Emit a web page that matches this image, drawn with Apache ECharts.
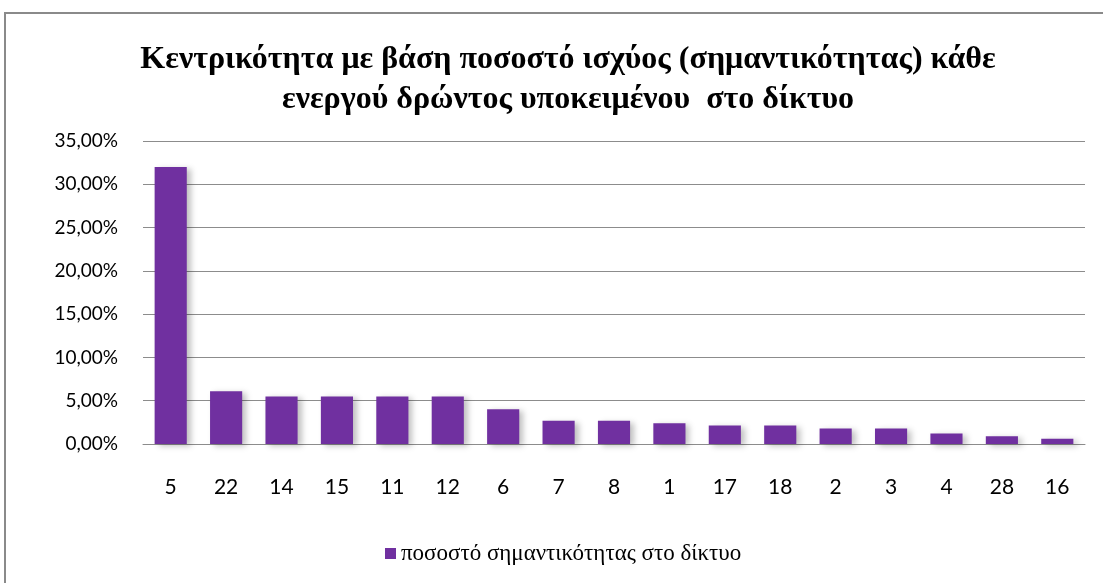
<!DOCTYPE html>
<html>
<head>
<meta charset="utf-8">
<script src="https://cdn.jsdelivr.net/npm/echarts@6/dist/echarts.min.js"></script>
<style>
  html, body { margin: 0; padding: 0; background: #fff; }
  #chart { width: 1103px; height: 583px; }
</style>
</head>
<body>
<div id="chart"></div>
<script>
// κόμβοι (ενεργοί δρώντες) και ποσοστό σημαντικότητας
var categories = ['5', '22', '14', '15', '11', '12', '6', '7', '8', '1', '17', '18', '2', '3', '4', '28', '16'];
var values = [32.0, 6.1, 5.5, 5.5, 5.5, 5.5, 4.0, 2.7, 2.7, 2.4, 2.15, 2.15, 1.8, 1.8, 1.2, 0.9, 0.6];
var seriesName = 'ποσοστό σημαντικότητας στο δίκτυο';
var titleText = 'Κεντρικότητα με βάση ποσοστό ισχύος (σημαντικότητας) κάθε\nενεργού δρώντος υποκειμένου  στο δίκτυο';

var chart = echarts.init(document.getElementById('chart'));

function pct(v) {
  return v.toFixed(2).replace('.', ',') + '%';
}

var option = {
  backgroundColor: '#ffffff',
  animation: false,
  title: {
    text: titleText,
    left: 563,
    top: 35,
    textAlign: 'center',
    textStyle: {
      fontFamily: 'Liberation Serif',
      fontWeight: 'bold',
      fontSize: 32,
      lineHeight: 40,
      color: '#000'
    }
  },
  legend: {
    data: [seriesName],
    left: 380,
    top: 537,
    itemWidth: 11,
    itemHeight: 11,
    itemGap: 5,
    icon: 'rect',
    textStyle: {
      fontFamily: 'Liberation Serif',
      fontSize: 23,
      color: '#000'
    }
  },
  grid: {
    left: 143,
    right: 18,
    top: 141,
    bottom: 139,
    containLabel: false
  },
  xAxis: {
    type: 'category',
    data: categories,
    axisLine: { lineStyle: { color: '#8c8c8c', width: 1 } },
    axisTick: { show: false },
    axisLabel: {
      margin: 33,
      fontFamily: 'Lato',
      fontSize: 21,
      color: '#000'
    }
  },
  yAxis: {
    type: 'value',
    min: 0,
    max: 35,
    interval: 5,
    axisLine: { show: false },
    axisTick: { show: false },
    splitLine: { lineStyle: { color: '#8c8c8c', width: 1 } },
    axisLabel: {
      margin: 25,
      fontFamily: 'Lato',
      fontSize: 19,
      color: '#000',
      formatter: pct
    }
  },
  graphic: [{
    type: 'rect',
    shape: { x: 5, y: 13, width: 1110, height: 600 },
    style: { fill: 'none', stroke: '#8a8a8a', lineWidth: 2 },
    silent: true
  }],
  series: [{
    name: seriesName,
    type: 'bar',
    data: values,
    barWidth: '58%',
    itemStyle: {
      color: '#7030a0',
      shadowColor: 'rgba(0,0,0,0.25)',
      shadowBlur: 6,
      shadowOffsetX: 4,
      shadowOffsetY: 2
    }
  }]
};

chart.setOption(option);
</script>
</body>
</html>
